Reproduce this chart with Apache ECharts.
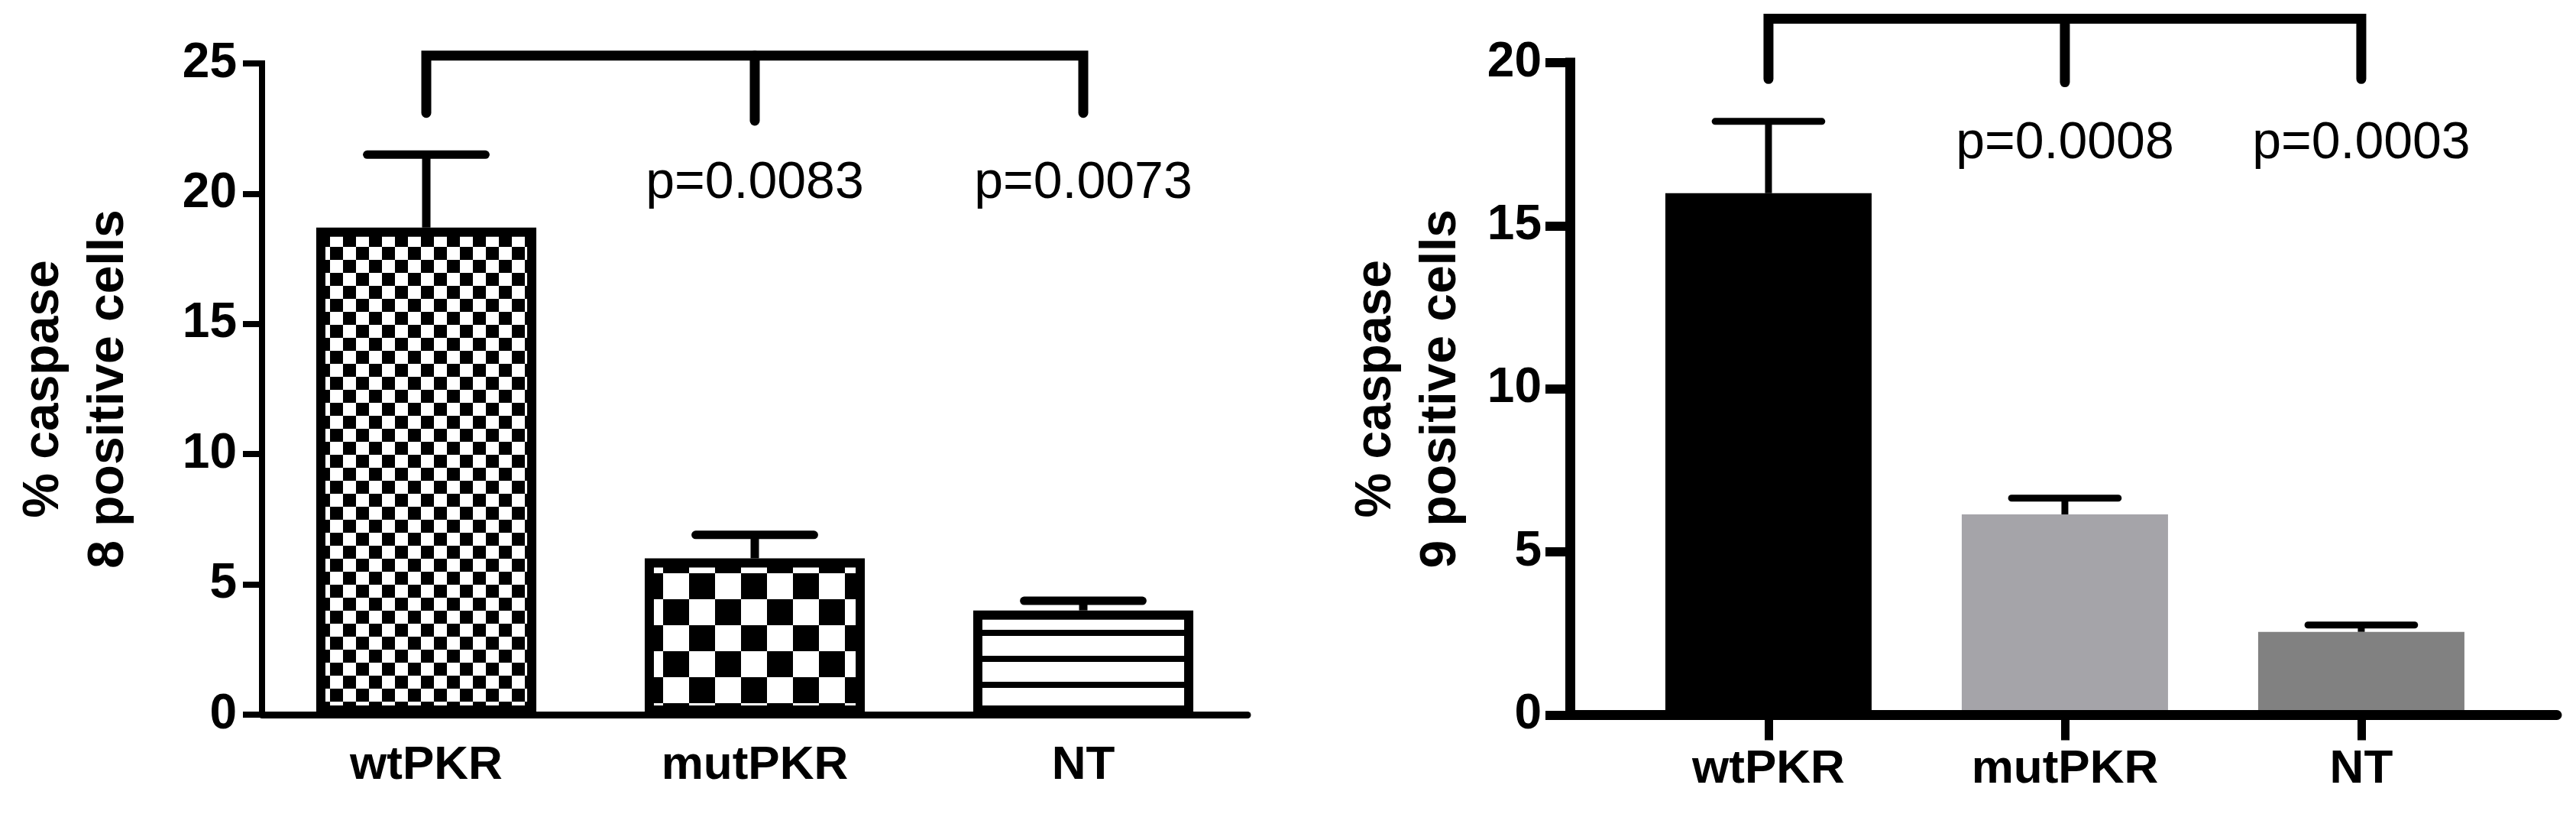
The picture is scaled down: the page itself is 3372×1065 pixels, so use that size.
<!DOCTYPE html>
<html><head><meta charset="utf-8">
<script src="https://cdn.jsdelivr.net/npm/echarts@6/dist/echarts.min.js"></script>
<style>html,body{margin:0;padding:0;background:#fff}#c{width:3372px;height:1065px}</style>
</head><body><div id="c"></div>
<script>
// ---------------- data ----------------
const categories = ['wtPKR', 'mutPKR', 'NT'];
const casp8Mean = [18.7, 6.0, 4.0];
const casp8Sem = [2.8, 0.9, 0.37];
const casp9Mean = [16.0, 6.15, 2.55];
const casp9Sem = [2.2, 0.5, 0.21];
const casp8PValues = ['', 'p=0.0083', 'p=0.0073'];
const casp9PValues = ['', 'p=0.0008', 'p=0.0003'];
const casp8Title = '% caspase\n8 positive cells';
const casp9Title = '% caspase\n9 positive cells';
// annotation levels (data units)
const casp8Bracket = { top: 25.3, legs: [23.1, 22.8, 23.1], pY: 20.4 };
const casp9Bracket = { top: 21.35, legs: [19.5, 19.4, 19.5], pY: 17.5 };

// ---------------- styles ----------------
const FONT = "'Liberation Sans', Arial, Helvetica, sans-serif";
function tile(w, h, draw) {
  const c = document.createElement('canvas'); c.width = w; c.height = h;
  const g = c.getContext('2d'); g.fillStyle = '#fff'; g.fillRect(0, 0, w, h);
  g.fillStyle = '#000'; draw(g); return c;
}
const smallCheck = tile(34, 34, g => { g.fillRect(7, 0, 17, 17); g.fillRect(24, 17, 10, 17); g.fillRect(0, 17, 7, 17); });
const bigCheck = tile(68, 68, g => {
  g.fillRect(18, 2, 34, 34); g.fillRect(52, 36, 16, 32); g.fillRect(0, 36, 18, 32);
  g.fillRect(52, 0, 16, 2); g.fillRect(0, 0, 18, 2);
});
const stripes = tile(16, 34, g => { g.fillRect(0, 8, 16, 8); });
const leftFills = [smallCheck, bigCheck, stripes].map(c => ({ image: c, repeat: 'repeat' }));
const rightColors = ['#000000', '#a5a4a9', '#818181'];

function errRender(lw) {
  return function (params, api) {
    const x = api.value(0);
    const lo = api.coord([x, api.value(1)]);
    const hi = api.coord([x, api.value(2)]);
    const half = api.size([1, 0])[0] * 0.18;
    return { type: 'group', children: [
      { type: 'line', shape: { x1: lo[0], y1: lo[1], x2: hi[0], y2: hi[1] }, style: { stroke: '#000', lineWidth: lw } },
      { type: 'line', shape: { x1: hi[0] - half, y1: hi[1], x2: hi[0] + half, y2: hi[1] }, style: { stroke: '#000', lineWidth: lw, lineCap: 'round' } }
    ] };
  };
}
function bracketRender(br, pvals, lw) {
  return function (params, api) {
    const p = (i, v) => api.coord([i, v]);
    const a = p(0, br.legs[0]), b = p(0, br.top), c = p(2, br.top), d = p(2, br.legs[2]);
    const m1 = p(1, br.top), m2 = p(1, br.legs[1]);
    const children = [
      { type: 'polyline', shape: { points: [a, b, c, d] }, style: { stroke: '#000', fill: null, lineWidth: lw, lineCap: 'round', lineJoin: 'miter' } },
      { type: 'line', shape: { x1: m1[0], y1: m1[1], x2: m2[0], y2: m2[1] }, style: { stroke: '#000', lineWidth: lw, lineCap: 'round' } }
    ];
    pvals.forEach((t, i) => {
      if (!t) return;
      const q = p(i, br.pY);
      children.push({ type: 'text', x: q[0], y: q[1], style: { text: t, fill: '#000', fontSize: 68, fontFamily: FONT, fontWeight: 'normal', align: 'center', verticalAlign: 'middle' } });
    });
    return { type: 'group', children };
  };
}

const boldLabel = { color: '#000', fontSize: 64, fontWeight: 'bold', fontFamily: FONT };
const titleStyle = { color: '#000', fontSize: 66, fontWeight: 'bold', fontFamily: FONT, lineHeight: 85 };

const option = {
  animation: false,
  backgroundColor: '#fff',
  grid: [
    { left: 343, top: 83, width: 1290, height: 852 },
    { left: 2055, top: 82, width: 1292, height: 853.5 }
  ],
  xAxis: [
    { type: 'category', gridIndex: 0, data: categories, boundaryGap: true, z: 5,
      axisLine: { onZero: false, lineStyle: { color: '#000', width: 9 } },
      axisTick: { alignWithLabel: true, length: 26, lineStyle: { color: '#000', width: 8 } },
      axisLabel: { margin: 36, fontSize: 62, color: '#000', fontWeight: 'bold', fontFamily: FONT },
      splitLine: { show: false } },
    { type: 'value', gridIndex: 1, min: -0.67, max: 2.66, z: 5,
      axisLine: { show: true, onZero: false, lineStyle: { color: '#000', width: 13 } },
      axisTick: { show: true, customValues: [0, 1, 2], length: 33, lineStyle: { color: '#000', width: 11 } },
      axisLabel: { customValues: [0, 1, 2], formatter: v => categories[Math.round(v)], margin: 40, fontSize: 62, color: '#000', fontWeight: 'bold', fontFamily: FONT },
      splitLine: { show: false } }
  ],
  yAxis: [
    { type: 'value', gridIndex: 0, min: 0, max: 25, interval: 5, z: 5,
      axisLine: { show: true, onZero: false, lineStyle: { color: '#000', width: 8, cap: 'square' } },
      axisTick: { show: true, length: 25, lineStyle: { color: '#000', width: 8 } },
      axisLabel: Object.assign({ margin: 33 }, boldLabel),
      splitLine: { show: false },
      name: casp8Title, nameLocation: 'middle', nameRotate: 90, nameGap: 158,
      nameTextStyle: titleStyle },
    { type: 'value', gridIndex: 1, min: 0, max: 20, interval: 5, z: 5,
      axisLine: { show: true, onZero: false, lineStyle: { color: '#000', width: 13, cap: 'square' } },
      axisTick: { show: true, length: 32, lineStyle: { color: '#000', width: 12 } },
      axisLabel: Object.assign({ margin: 37 }, boldLabel),
      splitLine: { show: false },
      name: casp9Title, nameLocation: 'middle', nameRotate: 90, nameGap: 126,
      nameTextStyle: titleStyle }
  ],
  series: [
    { type: 'bar', xAxisIndex: 0, yAxisIndex: 0, barWidth: '67%', silent: true,
      itemStyle: { borderColor: '#000', borderWidth: 12 },
      data: casp8Mean.map((v, i) => ({ value: v, itemStyle: { color: leftFills[i] } })) },
    { type: 'custom', xAxisIndex: 0, yAxisIndex: 0, silent: true, z: 4,
      encode: { x: 0, y: [1, 2] }, renderItem: errRender(11),
      data: casp8Mean.map((m, i) => [i, m, m + casp8Sem[i]]) },
    { type: 'custom', xAxisIndex: 0, yAxisIndex: 0, silent: true, z: 4,
      encode: { x: 0, y: 1 }, renderItem: bracketRender(casp8Bracket, casp8PValues, 13),
      data: [[0, 0]] },
    { type: 'bar', xAxisIndex: 1, yAxisIndex: 1, barWidth: 270, silent: true,
      data: casp9Mean.map((v, i) => ({ value: [i, v], itemStyle: { color: rightColors[i] } })) },
    { type: 'custom', xAxisIndex: 1, yAxisIndex: 1, silent: true, z: 4,
      encode: { x: 0, y: [1, 2] }, renderItem: errRender(9),
      data: casp9Mean.map((m, i) => [i, m, m + casp9Sem[i]]) },
    { type: 'custom', xAxisIndex: 1, yAxisIndex: 1, silent: true, z: 4,
      encode: { x: 0, y: 1 }, renderItem: bracketRender(casp9Bracket, casp9PValues, 13),
      data: [[0, 0]] }
  ]
};
const chart = echarts.init(document.getElementById('c'), null, { renderer: 'canvas' });
chart.setOption(option);
</script>
</body></html>
